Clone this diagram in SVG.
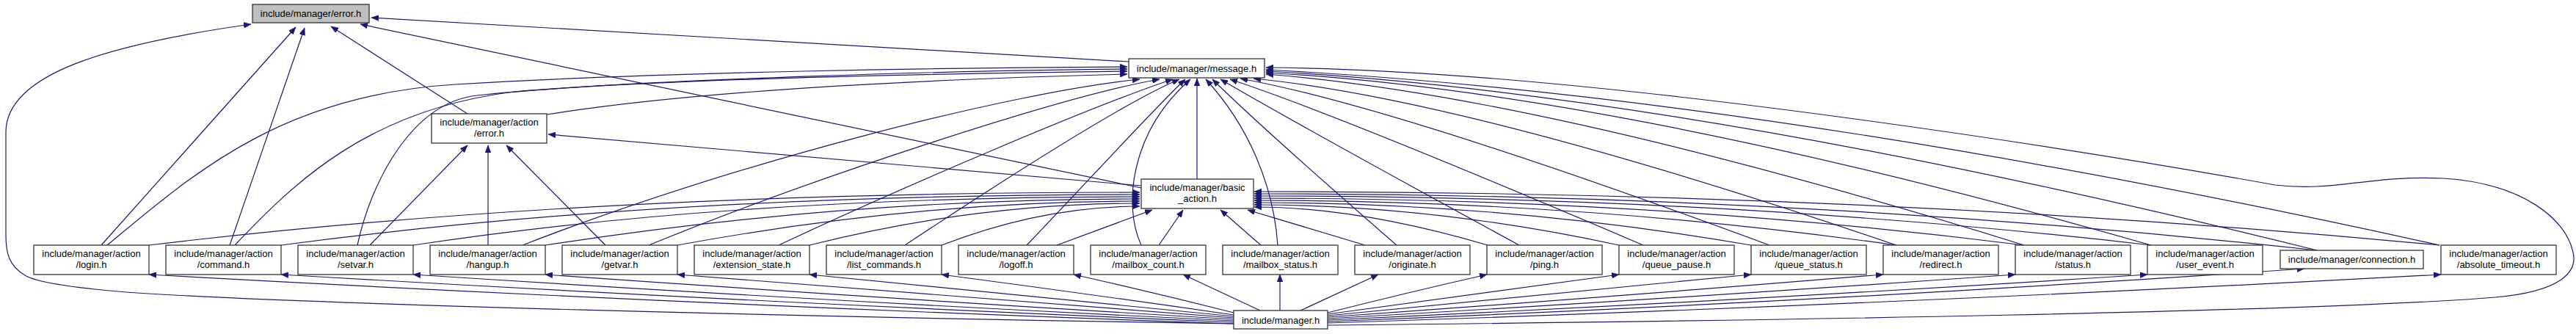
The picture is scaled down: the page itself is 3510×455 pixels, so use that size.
<svg xmlns="http://www.w3.org/2000/svg" width="3510" height="455" viewBox="0 0 3510 455">
<style>
.n rect{fill:#fff;stroke:#333;stroke-width:1.3}
.root rect{fill:#bfbfbf}
.n text{font-family:"Liberation Sans",Arial,sans-serif;font-size:13px;fill:#000;text-anchor:middle}
.e path{fill:none;stroke:#191970;stroke-width:1.2;marker-end:url(#ah)}
</style>
<defs>
<marker id="ah" markerWidth="11" markerHeight="8" refX="10" refY="4" orient="auto" markerUnits="userSpaceOnUse"><path d="M0,0 L10,4 L0,8 z" fill="#191970" stroke="#191970" stroke-width="0.5"/></marker>
</defs>
<rect width="3510" height="455" fill="#fff"/>
<g id="connectors" class="e">
<path d="M1538,84 L506,24"/>
<path d="M637,155 L451,36"/>
<path d="M1555,256 L491,33"/>
<path d="M138,334 L403,37"/>
<path d="M313,334 L415,38"/>
<path d="M1681,441 C1100,432 400,414 172,398 C100,392 50,385 34,375 C12,362 8,345 8,320 L8,180 C8,100 150,60 342,33"/>
<path d="M1555,253 L747,183"/>
<path d="M504,334 L637,198"/>
<path d="M665,334 L665,198"/>
<path d="M825,334 L690,198"/>
<path d="M745,156 Q1000,115 1536,101"/>
<path d="M1631,244 L1631,107"/>
<path d="M146,334 C260,240 380,130 620,115 C900,98 1300,92 1536,91"/>
<path d="M320,334 C400,250 500,150 700,125 C900,108 1300,96 1536,94"/>
<path d="M487,334 C505,250 560,140 650,130 C850,108 1300,100 1536,97"/>
<path d="M712,334 C1000,222 1380,125 1553,108"/>
<path d="M884,334 C1100,245 1450,130 1580,108"/>
<path d="M1061,334 C1240,250 1500,140 1598,108"/>
<path d="M1233,334 C1360,250 1530,140 1607,108"/>
<path d="M1399,334 C1470,260 1580,140 1615,108"/>
<path d="M1555,334 C1530,280 1540,180 1622,108"/>
<path d="M1741,334 C1735,250 1700,170 1643,108"/>
<path d="M1903,334 Q1720,175 1652,108"/>
<path d="M2070,334 Q1760,165 1663,108"/>
<path d="M2239,334 Q1820,155 1676,108"/>
<path d="M2411,334 Q1900,145 1690,107"/>
<path d="M2584,334 Q2000,135 1708,107"/>
<path d="M2758,334 Q2100,130 1725,101"/>
<path d="M2931,334 Q2200,125 1725,99"/>
<path d="M3157,341 Q2300,128 1725,97"/>
<path d="M3324,334 Q2400,130 1725,95"/>
<path d="M1809,443 C2400,437 3150,425 3400,405 C3490,397 3515,370 3505,340 C3495,300 3440,250 3330,243 C3230,238 3180,262 3100,252 C2950,225 2200,95 1725,92"/>
<path d="M203,334 Q800,262 1553,262"/>
<path d="M383,334 Q900,265 1553,265"/>
<path d="M563,334 Q1000,268 1553,268"/>
<path d="M743,334 Q1150,271 1553,271"/>
<path d="M923,334 Q1250,274 1553,274"/>
<path d="M1103,334 Q1330,277 1553,277"/>
<path d="M1283,334 Q1420,281 1553,281"/>
<path d="M1440,334 L1570,286"/>
<path d="M1579,334 L1612,286"/>
<path d="M1718,334 L1663,286"/>
<path d="M1860,334 L1700,286"/>
<path d="M2027,334 Q1850,282 1709,282"/>
<path d="M2206,334 Q1950,279 1709,279"/>
<path d="M2386,334 Q2050,276 1709,276"/>
<path d="M2584,334 Q2150,273 1709,273"/>
<path d="M2758,334 Q2250,270 1709,270"/>
<path d="M2931,334 Q2350,267 1709,267"/>
<path d="M3157,341 Q2450,264 1709,264"/>
<path d="M3324,334 Q2550,261 1709,261"/>
<path d="M1681,441 Q940,415 203,374"/>
<path d="M1681,439 Q1030,412 383,374"/>
<path d="M1681,437 Q1120,410 563,374"/>
<path d="M1681,435 Q1210,407 743,374"/>
<path d="M1681,433 Q1300,405 923,374"/>
<path d="M1681,431 Q1390,402 1103,374"/>
<path d="M1681,429 Q1480,400 1283,374"/>
<path d="M1681,426 Q1570,398 1463,374"/>
<path d="M1717,423 L1612,374"/>
<path d="M1744,423 L1744,374"/>
<path d="M1772,423 L1878,374"/>
<path d="M1809,426 Q1920,398 2026,374"/>
<path d="M1809,428 Q2010,400 2206,374"/>
<path d="M1809,430 Q2100,402 2386,374"/>
<path d="M1809,432 Q2190,405 2566,374"/>
<path d="M1809,434 Q2280,407 2746,374"/>
<path d="M1809,436 Q2370,410 2926,374"/>
<path d="M1809,438 Q2470,412 3140,366"/>
<path d="M1809,440 Q2570,415 3326,374"/>
</g>
<g id="error_h" class="n root"><rect x="344" y="6" width="159" height="25"/><text x="423.5" y="23">include/manager/error.h</text></g>
<g id="message_h" class="n"><rect x="1538" y="80" width="185" height="26"/><text x="1630.5" y="97.5">include/manager/message.h</text></g>
<g id="action_error_h" class="n"><rect x="588" y="155" width="157" height="40"/><text x="666.5" y="171">include/manager/action</text><text x="666.5" y="186">/error.h</text></g>
<g id="basic_action_h" class="n"><rect x="1555" y="244" width="153" height="40"/><text x="1631.5" y="260">include/manager/basic</text><text x="1631.5" y="275">_action.h</text></g>
<g id="login_h" class="n"><rect x="46" y="334" width="157" height="40"/><text x="124.5" y="350">include/manager/action</text><text x="124.5" y="365">/login.h</text></g>
<g id="command_h" class="n"><rect x="226" y="334" width="157" height="40"/><text x="304.5" y="350">include/manager/action</text><text x="304.5" y="365">/command.h</text></g>
<g id="setvar_h" class="n"><rect x="406" y="334" width="157" height="40"/><text x="484.5" y="350">include/manager/action</text><text x="484.5" y="365">/setvar.h</text></g>
<g id="hangup_h" class="n"><rect x="586" y="334" width="157" height="40"/><text x="664.5" y="350">include/manager/action</text><text x="664.5" y="365">/hangup.h</text></g>
<g id="getvar_h" class="n"><rect x="766" y="334" width="157" height="40"/><text x="844.5" y="350">include/manager/action</text><text x="844.5" y="365">/getvar.h</text></g>
<g id="extension_state_h" class="n"><rect x="946" y="334" width="157" height="40"/><text x="1024.5" y="350">include/manager/action</text><text x="1024.5" y="365">/extension_state.h</text></g>
<g id="list_commands_h" class="n"><rect x="1126" y="334" width="157" height="40"/><text x="1204.5" y="350">include/manager/action</text><text x="1204.5" y="365">/list_commands.h</text></g>
<g id="logoff_h" class="n"><rect x="1306" y="334" width="157" height="40"/><text x="1384.5" y="350">include/manager/action</text><text x="1384.5" y="365">/logoff.h</text></g>
<g id="mailbox_count_h" class="n"><rect x="1486" y="334" width="157" height="40"/><text x="1564.5" y="350">include/manager/action</text><text x="1564.5" y="365">/mailbox_count.h</text></g>
<g id="mailbox_status_h" class="n"><rect x="1666" y="334" width="157" height="40"/><text x="1744.5" y="350">include/manager/action</text><text x="1744.5" y="365">/mailbox_status.h</text></g>
<g id="originate_h" class="n"><rect x="1846" y="334" width="157" height="40"/><text x="1924.5" y="350">include/manager/action</text><text x="1924.5" y="365">/originate.h</text></g>
<g id="ping_h" class="n"><rect x="2026" y="334" width="157" height="40"/><text x="2104.5" y="350">include/manager/action</text><text x="2104.5" y="365">/ping.h</text></g>
<g id="queue_pause_h" class="n"><rect x="2206" y="334" width="157" height="40"/><text x="2284.5" y="350">include/manager/action</text><text x="2284.5" y="365">/queue_pause.h</text></g>
<g id="queue_status_h" class="n"><rect x="2386" y="334" width="157" height="40"/><text x="2464.5" y="350">include/manager/action</text><text x="2464.5" y="365">/queue_status.h</text></g>
<g id="redirect_h" class="n"><rect x="2566" y="334" width="157" height="40"/><text x="2644.5" y="350">include/manager/action</text><text x="2644.5" y="365">/redirect.h</text></g>
<g id="status_h" class="n"><rect x="2746" y="334" width="157" height="40"/><text x="2824.5" y="350">include/manager/action</text><text x="2824.5" y="365">/status.h</text></g>
<g id="user_event_h" class="n"><rect x="2926" y="334" width="157" height="40"/><text x="3004.5" y="350">include/manager/action</text><text x="3004.5" y="365">/user_event.h</text></g>
<g id="connection_h" class="n"><rect x="3107" y="341" width="195" height="25"/><text x="3204.5" y="358">include/manager/connection.h</text></g>
<g id="absolute_timeout_h" class="n"><rect x="3326" y="334" width="157" height="40"/><text x="3404.5" y="350">include/manager/action</text><text x="3404.5" y="365">/absolute_timeout.h</text></g>
<g id="manager_h" class="n"><rect x="1681" y="423" width="128" height="25"/><text x="1745" y="440.5">include/manager.h</text></g>
</svg>
